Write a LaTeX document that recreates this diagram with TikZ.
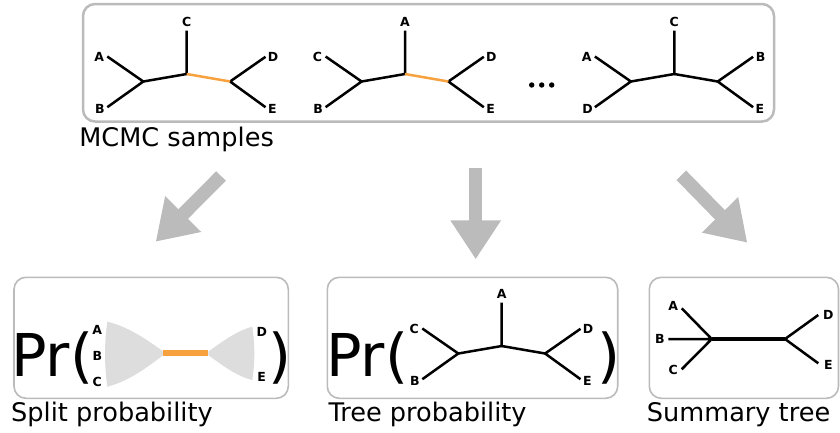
\documentclass[tikz,border=0pt]{standalone}
\usepackage{fontspec}
\setmainfont{DejaVu Sans}
\usetikzlibrary{arrows.meta}

\definecolor{framegray}{HTML}{BBBBBB}
\definecolor{splitorange}{HTML}{F7A23E}
\definecolor{cladegray}{HTML}{DDDDDD}
\definecolor{flowgray}{HTML}{BBBBBB}

\tikzset{
  panel/.style={draw=framegray, rounded corners=12pt, line width=1.6pt},
  samplepanel/.style={draw=framegray, rounded corners=12pt, line width=2.5pt},
  branch/.style={line width=2.5pt, black},
  splitbranch/.style={line width=2.5pt, splitorange},
  leaf/.style={font=\fontsize{12.5}{13}\selectfont\bfseries, inner sep=0pt},
  caption/.style={font=\fontsize{25.6}{30}\selectfont, anchor=base west, inner sep=0pt},
  bigpr/.style={font=\fontsize{59}{60}\selectfont, anchor=base west, inner sep=0pt},
  flow/.style={line width=13.5pt, flowgray, -{Triangle[length=39pt,width=48pt]}},
}

% Unrooted five-taxon tree: #1 name prefix, #2 centre, #3 top leaf,
% #4 upper-left, #5 lower-left, #6 upper-right, #7 lower-right,
% #8 style of the internal branch from the centre to the right cherry
\newcommand\phylotree[8]{%
  \begin{scope}[shift={#2}]
    \coordinate (#1c)  at (0,0);
    \coordinate (#1l)  at (-43.4,7.5);
    \coordinate (#1r)  at (43.4,7.5);
    \coordinate (#1t)  at (0,-43.5);
    \coordinate (#1lt) at (-79.4,-17.5);
    \coordinate (#1lb) at (-79.4,33.2);
    \coordinate (#1rt) at (78.8,-17.2);
    \coordinate (#1rb) at (78.8,33.2);
    \node[leaf] (#1Nt)  at (0,-52.5)     {#3};
    \node[leaf] (#1Nlt) at (-87.5,-16.7) {#4};
    \node[leaf] (#1Nlb) at (-86.8,35)    {#5};
    \node[leaf] (#1Nrt) at (86.3,-16.7)  {#6};
    \node[leaf] (#1Nrb) at (85.6,35)     {#7};
    \draw[branch] (#1lt) -- (#1l) -- (#1lb);
    \draw[branch] (#1rt) -- (#1r) -- (#1rb);
    \draw[branch] (#1l) -- (#1c) -- (#1t);
    \draw[#8] (#1c) -- (#1r);
  \end{scope}}

\begin{document}
\begin{tikzpicture}[x=1pt, y=-1pt]
  \useasboundingbox (0,0) rectangle (840,432);

  % ---- posterior samples ----
  \draw[samplepanel] (83,4) rectangle (774,121.5);
  \phylotree{s1}{(186.7,74)}{C}{A}{B}{D}{E}{splitbranch}
  \phylotree{s2}{(405,74)}{A}{C}{B}{D}{E}{splitbranch}
  \phylotree{s3}{(674.3,74)}{C}{A}{D}{B}{E}{branch}
  \foreach \dx in {531.7,541.7,551.7}
    \fill (\dx,85) circle (2.7);
  \node[caption] (mcmc) at (79.2,146.7) {MCMC samples};

  % ---- flow arrows ----
  \coordinate (outL) at (221,176);   \coordinate (inL) at (155.7,241.7);
  \coordinate (outM) at (475.7,168.3); \coordinate (inM) at (475.7,259.3);
  \coordinate (outR) at (681.3,175.3); \coordinate (inR) at (747.3,242.7);
  \draw[flow] (outL) -- (inL);
  \draw[flow] (outM) -- (inM);
  \draw[flow] (outR) -- (inR);

  % ---- split probability ----
  \draw[panel] (14,277.3) rectangle (288.3,398.3);
  \node[bigpr] (prA) at (11,376.5) {Pr(};
  \node[bigpr] (clA) at (268.5,376.5) {)};
  \node[leaf] (spA) at (97.3,330) {A};
  \node[leaf] (spB) at (97.3,356) {B};
  \node[leaf] (spC) at (97.3,381.7) {C};
  \node[leaf] (spD) at (261.7,331.7) {D};
  \node[leaf] (spE) at (261.7,377.3) {E};
  \fill[cladegray] (107.3,321.7) .. controls (130,327) and (150,342) .. (163.3,351.5)
    -- (163.3,355.1) .. controls (150,365) and (130,381) .. (107.3,386.7)
    .. controls (104.3,365) and (104.3,343) .. cycle;
  \fill[cladegray] (208.3,351.5) .. controls (222,342) and (236,331) .. (252.3,326.7)
    .. controls (255,345) and (255,362) .. (252.3,380)
    .. controls (236,376) and (222,365) .. (208.3,355.1) -- cycle;
  \coordinate (splitL) at (163.3,353.3);
  \coordinate (splitR) at (208.3,353.3);
  \draw[line width=6pt, splitorange] (splitL) -- (splitR);
  \node[caption] (capA) at (11,421.7) {Split probability};

  % ---- tree probability ----
  \draw[panel] (327.3,277.3) rectangle (617.7,398.3);
  \node[bigpr] (prB) at (326,376.5) {Pr(};
  \node[bigpr] (clB) at (597,376.5) {)};
  \phylotree{tp}{(501.7,346)}{A}{C}{B}{D}{E}{branch}
  \node[caption] (capB) at (328.3,421.7) {Tree probability};

  % ---- summary tree ----
  \draw[panel] (649.3,277.3) rectangle (838.5,398.3);
  \coordinate (smL) at (711.7,339);
  \coordinate (smR) at (785,339);
  \coordinate (smA) at (681.7,308.3);
  \coordinate (smB) at (668.3,339);
  \coordinate (smC) at (681.7,369.3);
  \coordinate (smD) at (818.3,315);
  \coordinate (smE) at (818.3,363.3);
  \node[leaf] (smNA) at (673.3,306) {A};
  \node[leaf] (smNB) at (660,339) {B};
  \node[leaf] (smNC) at (673.3,370) {C};
  \node[leaf] (smND) at (828.3,315) {D};
  \node[leaf] (smNE) at (828.3,365) {E};
  \draw[branch] (smA) -- (smL) (smB) -- (smL) (smC) -- (smL);
  \draw[branch] (smD) -- (smR) -- (smE);
  \draw[line width=3.6pt] (smL) -- (smR);
  \node[caption] (capC) at (646.7,421.7) {Summary tree};
\end{tikzpicture}
\end{document}
